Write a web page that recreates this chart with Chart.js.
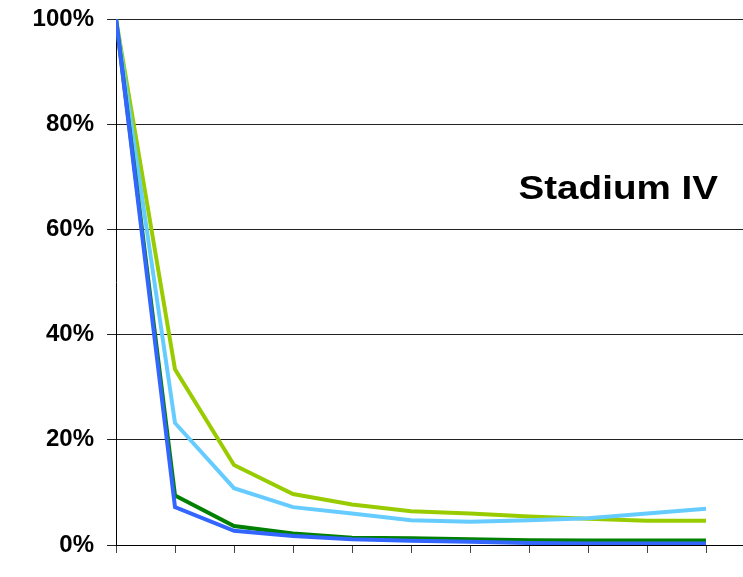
<!DOCTYPE html>
<html>
<head>
<meta charset="utf-8">
<script src="https://cdn.jsdelivr.net/npm/chart.js@4.4.1/dist/chart.umd.min.js"></script>
<style>
  html, body { margin: 0; padding: 0; background: #fff; }
  #wrap { width: 743px; height: 577px; }
</style>
</head>
<body>
<div id="wrap"><canvas id="myChart" width="743" height="577"></canvas></div>
<script>
// x positions (steps) and values, in percent
const steps = [0, 1, 2, 3, 4, 5, 6, 7, 8, 9, 10]
const lightGreen = [100, 33.4, 15.2, 9.7, 7.7, 6.4, 6.0, 5.4, 5.0, 4.6, 4.6]
const lightBlue = [100, 23.2, 10.8, 7.2, 6.0, 4.7, 4.4, 4.7, 5.1, 6.0, 6.9]
const darkGreen = [100, 9.4, 3.6, 2.2, 1.4, 1.3, 1.1, 0.9, 0.85, 0.85, 0.85]
const blue = [100, 7.2, 2.7, 1.7, 1.1, 0.8, 0.6, 0.4, 0.3, 0.3, 0.3]
const yTicks = [0, 20, 40, 60, 80, 100]
const titleText = "Stadium IV"

function points(values) {
    return steps.map((s, i) => ({ x: s, y: values[i] }))
}

// the title sits inside the plot, a bit stretched sideways like the original
const titlePlugin = {
    id: "insideTitle",
    afterDraw(chart) {
        const ctx = chart.ctx
        ctx.save()
        ctx.font = "bold 33px 'Liberation Sans', Arial, sans-serif"
        ctx.fillStyle = "#000"
        ctx.textAlign = "right"
        ctx.textBaseline = "alphabetic"
        ctx.translate(718, 199)
        ctx.scale(1.17, 1)
        ctx.fillText(titleText, 0, 0)
        ctx.restore()
    }
}

const line = (values, color) => ({
    data: points(values),
    borderColor: color,
    borderWidth: 4,
    pointRadius: 0,
    tension: 0,
    fill: false
})

new Chart(document.getElementById("myChart"), {
    type: "line",
    data: {
        datasets: [
            line(blue, "#3366FF"),
            line(darkGreen, "#008000"),
            line(lightBlue, "#66CCFF"),
            line(lightGreen, "#99CC00")
        ]
    },
    options: {
        responsive: false,
        animation: false,
        layout: { padding: { top: 19, right: 0, left: 0, bottom: 0 } },
        plugins: {
            legend: { display: false },
            tooltip: { enabled: false }
        },
        scales: {
            x: {
                type: "linear",
                min: 0,
                max: 10.627,
                afterFit: (s) => { s.height = 32; s.paddingLeft = 0; s.paddingRight = 0 },
                border: { display: true, color: "#000", width: 1 },
                grid: { drawOnChartArea: false, drawTicks: true, tickLength: 8, color: "#444" },
                ticks: {
                    stepSize: 1,
                    includeBounds: false,
                    callback: () => ""
                }
            },
            y: {
                min: 0,
                max: 100,
                afterFit: (s) => { s.width = 116; s.paddingTop = 0; s.paddingBottom = 0 },
                afterBuildTicks: (s) => { s.ticks = yTicks.map(v => ({ value: v })) },
                border: { display: true, color: "#000", width: 1 },
                grid: { color: "#222", lineWidth: 1, tickLength: 9, drawTicks: true },
                ticks: {
                    padding: 13,
                    color: "#000",
                    font: { family: "'Liberation Sans', Arial, sans-serif", size: 24, weight: "bold" },
                    callback: (v) => v + "%"
                }
            }
        }
    },
    plugins: [titlePlugin]
})
</script>
</body>
</html>
